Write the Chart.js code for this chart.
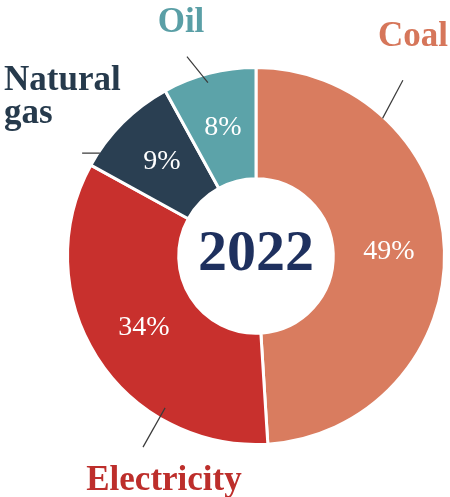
<!DOCTYPE html>
<html>
<head>
<meta charset="utf-8">
<script src="https://cdn.jsdelivr.net/npm/chart.js@4.4.1/dist/chart.umd.min.js"></script>
<style>
    html, body { margin: 0; padding: 0; background: #ffffff; }
    #wrap { width: 450px; height: 497px; }
</style>
</head>
<body>
<div id="wrap"><canvas id="mixChart"></canvas></div>
<script>
// Data
const categories = ["Coal", "Electricity", "Natural gas", "Oil"];
const shares = [49, 34, 9, 8];
const yearLabel = "2022";

const sliceColors = ["#d97c5f", "#c8302d", "#2a3f52", "#5ca3a9"];
const labelColors = ["#d6765a", "#bd2e2b", "#263a4c", "#5a9fa6"];

// Where each outside label and its leader line sit (angle in degrees clockwise from top, radius in px)
const calloutLayout = {
    "Coal":        { from: [42.6, 187], to: [39.9, 229], text: [157, -210], lines: ["Coal"], align: "center" },
    "Electricity": { from: [210.9, 177], to: [210.6, 222], text: [-92, 234], lines: ["Electricity"], align: "center" },
    "Natural gas": { from: [303.4, 187], to: [300.6, 202], text: [-252, -166], lines: ["Natural", "gas"], align: "left" },
    "Oil":         { from: [344.5, 180], to: [340.9, 211], text: [-75, -224], lines: ["Oil"], align: "center" }
};

function polar(cx, cy, deg, r) {
    const a = deg * Math.PI / 180;
    return [cx + r * Math.sin(a), cy - r * Math.cos(a)];
}

// Draws percentages, centre year and the outside callouts
const labelPlugin = {
    id: "labelPlugin",
    afterDatasetsDraw(chart) {
        const ctx = chart.ctx;
        const arcs = chart.getDatasetMeta(0).data;
        if (!arcs.length) return;
        const cx = arcs[0].x, cy = arcs[0].y;
        ctx.save();

        // percentages inside the ring
        ctx.fillStyle = "#ffffff";
        ctx.font = "28px 'Liberation Serif', serif";
        ctx.textAlign = "center";
        ctx.textBaseline = "middle";
        arcs.forEach((arc, i) => {
            const p = arc.tooltipPosition();
            ctx.fillText(shares[i] + "%", p.x, p.y);
        });

        // year in the hole
        ctx.fillStyle = "#1e305e";
        ctx.font = "bold 58px 'Liberation Serif', serif";
        ctx.fillText(yearLabel, cx, cy - 1);

        // callouts
        categories.forEach((name, i) => {
            const c = calloutLayout[name];
            const a = polar(cx, cy, c.from[0], c.from[1]);
            const b = polar(cx, cy, c.to[0], c.to[1]);
            ctx.strokeStyle = "#3a3a3a";
            ctx.lineWidth = 1.2;
            ctx.beginPath();
            ctx.moveTo(a[0], a[1]);
            ctx.lineTo(b[0], b[1]);
            ctx.stroke();

            ctx.fillStyle = labelColors[i];
            ctx.font = "bold 35px 'Liberation Serif', serif";
            ctx.textAlign = c.align;
            ctx.textBaseline = "alphabetic";
            c.lines.forEach((line, k) => {
                ctx.fillText(line, cx + c.text[0], cy + c.text[1] + k * 33);
            });
        });
        ctx.restore();
    }
};

new Chart(document.getElementById("mixChart").getContext("2d"), {
    type: "doughnut",
    data: {
        labels: categories,
        datasets: [{
            data: shares,
            backgroundColor: sliceColors,
            borderColor: "#ffffff",
            borderWidth: 3
        }]
    },
    options: {
        responsive: true,
        maintainAspectRatio: false,
        animation: false,
        cutout: "41%",
        layout: {
            padding: { left: 66, right: 4, top: 66, bottom: 51 }
        },
        plugins: {
            legend: { display: false },
            tooltip: { enabled: false }
        }
    },
    plugins: [labelPlugin]
});
</script>
</body>
</html>
